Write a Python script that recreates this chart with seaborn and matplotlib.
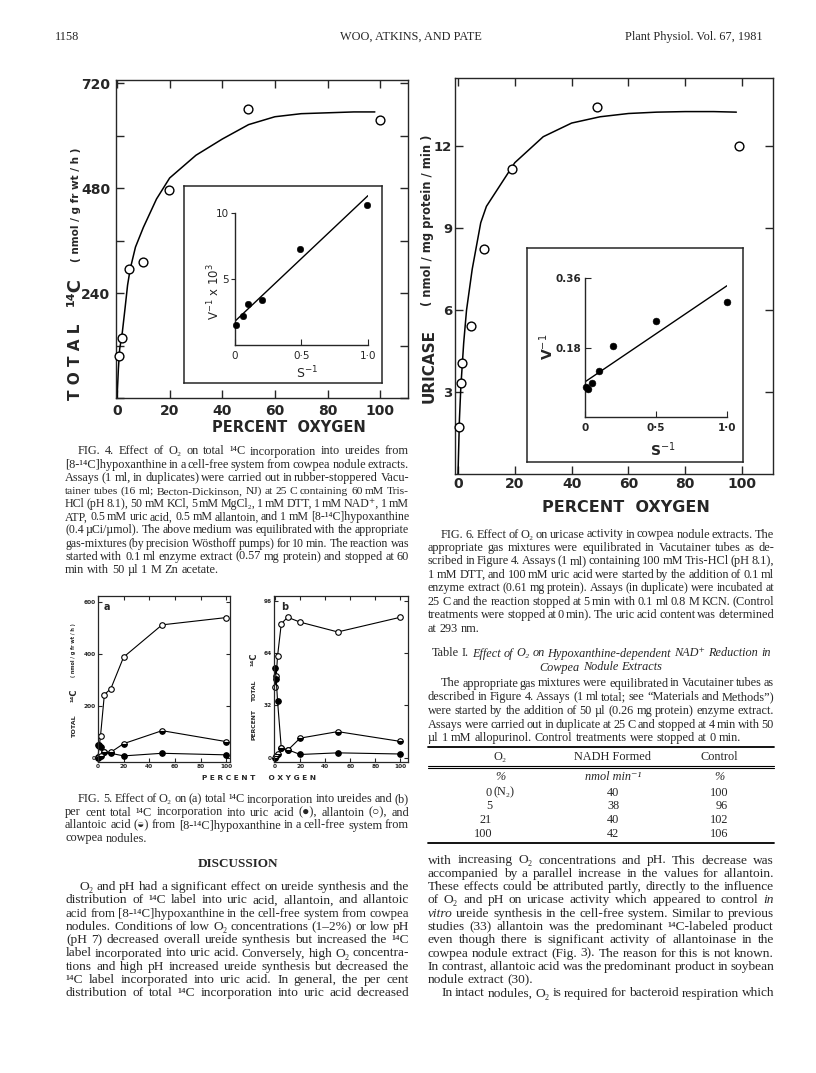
import matplotlib
matplotlib.use("Agg")
import matplotlib.pyplot as plt
import seaborn as sns
from matplotlib.lines import Line2D

# ---- data ----
# Fig. 4: total 14C incorporation vs percent oxygen (open circles + fitted curve)
f4_o2 = [0.8, 1.8, 4.6, 10, 19.6, 49.8, 100]
f4_total = [97, 138, 294, 310, 475, 661, 636]
f4_fit_o2 = [0, 0.5, 1, 2, 3, 4, 5, 7, 10, 15, 20, 30, 40, 50, 60, 70, 80, 90, 98]
f4_fit_total = [0, 66, 112, 150, 203, 258, 295, 345, 390, 455, 503, 555, 592, 625, 643, 650, 652, 654, 654]
# Fig. 4 inset: double reciprocal
f4_inv_s = [0.01, 0.06, 0.1, 0.2, 0.49, 0.99]
f4_inv_v = [1.5, 2.2, 3.1, 3.4, 7.3, 10.6]
f4_line_s = [0.0, 1.0]
f4_line_v = [1.8, 11.3]

# Fig. 6: uricase activity vs percent oxygen
f6_o2 = [0.3, 0.9, 1.4, 4.5, 9.3, 19, 49, 99]
f6_uricase = [1.73, 3.35, 4.05, 5.41, 8.25, 11.18, 13.44, 12.0]
f6_fit_o2 = [0, 0.5, 1, 2, 3, 5, 8, 10, 15, 20, 30, 40, 50, 60, 70, 80, 90, 98]
f6_fit_uricase = [0, 2.0, 3.2, 4.8, 6.0, 7.5, 9.2, 9.8, 10.6, 11.4, 12.35, 12.85, 13.08, 13.2, 13.25, 13.27, 13.27, 13.25]
# Fig. 6 inset
f6_inv_s = [0.01, 0.02, 0.05, 0.1, 0.2, 0.5, 1.0]
f6_inv_v = [0.078, 0.072, 0.087, 0.118, 0.183, 0.248, 0.298]
f6_line_s = [0.0, 1.0]
f6_line_v = [0.091, 0.340]

# Fig. 5: a = total 14C (nmol/g fr wt/h), b = percent of total 14C
f5_o2 = [0, 1, 2, 5, 10, 20, 50, 100]
f5a_allantoin = [5, 45, 85, 244, 266, 388, 512, 540]
f5a_uric = [50, 48, 42, 22, 18, 8, 18, 12]
f5a_allantoic = [0, 3, 8, 22, 22, 55, 105, 63]
f5b_allantoin = [43, 50, 62, 82, 86, 83, 77, 86]
f5b_uric = [55, 48, 35, 6, 5, 2, 3, 2.3]
f5b_allantoic = [0, 1, 2, 6, 4.5, 12, 16, 10]

# Table I
t_o2 = ["0", "5", "21", "100"]
t_nadh = ["40", "38", "40", "42"]
t_control = ["100", "96", "102", "106"]

W, H = 816, 1073
sns.set_style("ticks")
plt.rcParams["font.family"] = ["DejaVu Sans"]
plt.rcParams["axes.linewidth"] = 1.0
SERIF = ["Liberation Serif", "DejaVu Serif", "DejaVu Sans"]
CAP = 8.8   # caption / table text size
BODY = 9.6  # running text size

fig = plt.figure(figsize=(W / 100, H / 100), dpi=100)
renderer = fig.canvas.get_renderer()


def fx(x):
    return x / W


def fy(y):
    return 1 - y / H


def add_ax(l, t, r, b, **kw):
    return fig.add_axes([l / W, 1 - b / H, (r - l) / W, (b - t) / H], **kw)


def ftext(x, y, s, **kw):
    return fig.text(fx(x), fy(y), s, **kw)


def line_of_words(x0, x1, y, line, size=CAP, align="justify", bold=False):
    # place word by word so the column can be justified like the print
    arts = []
    for w in line.split(" "):
        ital = len(w) > 1 and w.startswith("*") and w.endswith("*")
        s = w.strip("*") if ital else w
        arts.append(fig.text(0, fy(y + 3.5), s, fontsize=size, family=SERIF,
                             style="italic" if ital else "normal",
                             weight="bold" if bold else "normal",
                             va="baseline", ha="left"))
    sp = size * 100 / 72 * 0.25
    for _ in range(8):
        widths = [a.get_window_extent(renderer).width for a in arts]
        total = sum(widths)
        n = len(arts) - 1
        if align == "justify" and n > 0 and (x1 - x0 - total) / n < sp * 0.55:
            size *= 0.97
            for a in arts:
                a.set_fontsize(size)
            continue
        break
    gap = (x1 - x0 - total) / n if (align == "justify" and n > 0) else sp
    if align == "center":
        x = (x0 + x1) / 2 - (total + gap * n) / 2
    elif align == "right":
        x = x1 - (total + gap * n)
    else:
        x = x0
    for a, wd in zip(arts, widths):
        a.set_x(fx(x))
        x += wd + gap


def paragraph(x0, x1, ys, lines, size=CAP, indent=(0,), last_free=True):
    for i, (y, ln) in enumerate(zip(ys, lines)):
        left = x0 + (13 if i in indent else 0)
        last = last_free and i == len(lines) - 1
        line_of_words(left, x1, y, ln, size=size, align="left" if last else "justify")


def style_main(ax, fs, pad=4):
    ax.tick_params(direction="in", length=6, width=1, top=True, right=True,
                   labelsize=fs, pad=pad)
    for lab in ax.get_xticklabels() + ax.get_yticklabels():
        lab.set_fontweight("bold")
    ax.set_xlabel("")
    ax.set_ylabel("")


# ---------------- header ----------------
ftext(55, 40, "1158", fontsize=8.8, family=SERIF, va="baseline")
ftext(411, 40, "WOO, ATKINS, AND PATE", fontsize=8.8, family=SERIF, va="baseline", ha="center")
ftext(763, 40, "Plant Physiol. Vol. 67, 1981", fontsize=8.8, family=SERIF, va="baseline", ha="right")

# ---------------- Fig. 4 ----------------
ax4 = add_ax(116, 80, 408, 398)
sns.lineplot(x=f4_fit_o2, y=f4_fit_total, ax=ax4, color="black", lw=1.1,
             estimator=None, sort=False)
sns.scatterplot(x=f4_o2, y=f4_total, ax=ax4, color="white", edgecolor="black",
                linewidth=1.0, s=40, zorder=3, clip_on=False)
ax4.set_xlim(-0.4, 110.6)
ax4.set_ylim(0, 727)
ax4.set_xticks([0, 20, 40, 60, 80, 100])
ax4.set_yticks([0, 120, 240, 360, 480, 600, 720])
ax4.set_yticklabels(["", "", "240", "", "480", "", "720"])
style_main(ax4, 10)

box4 = add_ax(184, 186, 382, 383)
box4.set_xticks([])
box4.set_yticks([])
for sp_ in box4.spines.values():
    sp_.set_linewidth(1.1)

in4 = add_ax(235, 193, 368, 345)
in4.patch.set_alpha(0)
sns.lineplot(x=f4_line_s, y=f4_line_v, ax=in4, color="black", lw=1.0, estimator=None)
sns.scatterplot(x=f4_inv_s, y=f4_inv_v, ax=in4, color="black", edgecolor="black",
                s=22, zorder=3, clip_on=False)
in4.set_xlim(0, 1.0)
in4.set_ylim(0, 11.5)
in4.spines["top"].set_visible(False)
in4.spines["right"].set_visible(False)
in4.spines["left"].set_bounds(0, 10)
in4.set_xticks([0, 0.5, 1.0])
in4.set_xticklabels(["0", "0·5", "1·0"])
in4.set_yticks([5, 10])
in4.tick_params(axis="y", direction="out", length=3, labelsize=7.5, pad=1.5)
in4.tick_params(axis="x", direction="in", length=4, labelsize=7.5, pad=4)
in4.set_xlabel("")
in4.set_ylabel("")
ftext(214, 292, "V$^{-1}$ x 10$^{3}$", fontsize=8.5, rotation=90, ha="center", va="center")
ftext(307, 373, "S$^{-1}$", fontsize=9, ha="center", va="center")

ftext(75, 362, "T O T A L", fontsize=11, weight="bold", rotation=90, ha="center", va="center")
ftext(75, 292, "¹⁴C", fontsize=13, weight="bold", rotation=90, ha="center", va="center")
ftext(76, 205, "( nmol / g fr wt / h )", fontsize=7.5, weight="bold", rotation=90, ha="center", va="center")
ftext(289, 428, "PERCENT  OXYGEN", fontsize=10.5, weight="bold", ha="center", va="center")

cap4 = [
    "FIG. 4. Effect of O₂ on total ¹⁴C incorporation into ureides from",
    "[8-¹⁴C]hypoxanthine in a cell-free system from cowpea nodule extracts.",
    "Assays (1 ml, in duplicates) were carried out in rubber-stoppered Vacu-",
    "tainer tubes (16 ml; Becton-Dickinson, NJ) at 25 C containing 60 mM Tris-",
    "HCl (pH 8.1), 50 mM KCl, 5 mM MgCl₂, 1 mM DTT, 1 mM NAD⁺, 1 mM",
    "ATP, 0.5 mM uric acid, 0.5 mM allantoin, and 1 mM [8-¹⁴C]hypoxanthine",
    "(0.4 µCi/µmol). The above medium was equilibrated with the appropriate",
    "gas-mixtures (by precision Wösthoff pumps) for 10 min. The reaction was",
    "started with 0.1 ml enzyme extract (0.57 mg protein) and stopped at 60",
    "min with 50 µl 1 M Zn acetate.",
]
paragraph(65, 409, [451 + 13.15 * i for i in range(len(cap4))], cap4)

# ---------------- Fig. 6 ----------------
ax6 = add_ax(455, 78, 773, 474)
sns.lineplot(x=f6_fit_o2, y=f6_fit_uricase, ax=ax6, color="black", lw=1.1,
             estimator=None, sort=False)
sns.scatterplot(x=f6_o2, y=f6_uricase, ax=ax6, color="white", edgecolor="black",
                linewidth=1.0, s=40, zorder=3, clip_on=False)
ax6.set_xlim(-1.06, 110.9)
ax6.set_ylim(0, 14.5)
ax6.set_xticks([0, 20, 40, 60, 80, 100])
ax6.set_yticks([3, 6, 9, 12])
style_main(ax6, 10, pad=2)
ax6.tick_params(axis="y", labelsize=9.5)

box6 = add_ax(527, 248, 743, 462)
box6.set_xticks([])
box6.set_yticks([])
for sp_ in box6.spines.values():
    sp_.set_linewidth(1.1)

in6 = add_ax(585, 278, 727, 417)
in6.patch.set_alpha(0)
sns.lineplot(x=f6_line_s, y=f6_line_v, ax=in6, color="black", lw=1.0, estimator=None)
sns.scatterplot(x=f6_inv_s, y=f6_inv_v, ax=in6, color="black", edgecolor="black",
                s=24, zorder=3, clip_on=False)
in6.set_xlim(0, 1.0)
in6.set_ylim(0, 0.36)
in6.spines["top"].set_visible(False)
in6.spines["right"].set_visible(False)
in6.set_xticks([0, 0.5, 1.0])
in6.set_xticklabels(["0", "0·5", "1·0"])
in6.set_yticks([0.18, 0.36])
in6.set_yticklabels(["0.18", "0.36"])
in6.tick_params(axis="y", direction="in", length=4, labelsize=7.5, pad=3)
in6.tick_params(axis="x", direction="in", length=4, labelsize=7.5, pad=4)
for lab in in6.get_xticklabels() + in6.get_yticklabels():
    lab.set_fontweight("bold")
in6.set_xlabel("")
in6.set_ylabel("")
ftext(547, 347, "V$^{-1}$", fontsize=10, weight="bold", rotation=90, ha="center", va="center")
ftext(663, 450, "S$^{-1}$", fontsize=10, weight="bold", ha="center", va="center")

ftext(429, 366, "URICASE", fontsize=11, weight="bold", rotation=90, ha="center", va="center")
ftext(428, 220, "( nmol / mg protein / min )", fontsize=8.3, weight="bold", rotation=90, ha="center", va="center")
ftext(626, 508, "PERCENT  OXYGEN", fontsize=11.5, weight="bold", ha="center", va="center")

cap6 = [
    "FIG. 6. Effect of O₂ on uricase activity in cowpea nodule extracts. The",
    "appropriate gas mixtures were equilibrated in Vacutainer tubes as de-",
    "scribed in Figure 4. Assays (1 ml) containing 100 mM Tris-HCl (pH 8.1),",
    "1 mM DTT, and 100 mM uric acid were started by the addition of 0.1 ml",
    "enzyme extract (0.61 mg protein). Assays (in duplicate) were incubated at",
    "25 C and the reaction stopped at 5 min with 0.1 ml 0.8 M KCN. (Control",
    "treatments were stopped at 0 min). The uric acid content was determined",
    "at 293 nm.",
]
paragraph(428, 774, [534 + 13.45 * i for i in range(len(cap6))], cap6)

# ---------------- Table I ----------------
line_of_words(428, 774, 653, "Table I. *Effect* *of* *O₂* *on* *Hypoxanthine-dependent* *NAD⁺* *Reduction* *in*",
              align="center")
line_of_words(428, 774, 667, "*Cowpea* *Nodule* *Extracts*", align="center")
note = [
    "The appropriate gas mixtures were equilibrated in Vacutainer tubes as",
    "described in Figure 4. Assays (1 ml total; see “Materials and Methods”)",
    "were started by the addition of 50 µl (0.26 mg protein) enzyme extract.",
    "Assays were carried out in duplicate at 25 C and stopped at 4 min with 50",
    "µl 1 mM allopurinol. Control treatments were stopped at 0 min.",
]
paragraph(428, 774, [683 + 13.7 * i for i in range(len(note))], note)

for yy, lw in [(747, 1.3), (766, 0.8), (768, 0.8), (843, 1.3)]:
    fig.add_artist(Line2D([fx(428), fx(774)], [fy(yy), fy(yy)], color="black", lw=lw))
ftext(500, 760, "O₂", fontsize=CAP, family=SERIF, ha="center", va="baseline")
ftext(613, 760, "NADH Formed", fontsize=CAP, family=SERIF, ha="center", va="baseline")
ftext(719, 760, "Control", fontsize=CAP, family=SERIF, ha="center", va="baseline")
ftext(500, 780, "%", fontsize=CAP, family=SERIF, ha="center", va="baseline", style="italic")
ftext(613, 780, "nmol min⁻¹", fontsize=CAP, family=SERIF, ha="center", va="baseline", style="italic")
ftext(719, 780, "%", fontsize=CAP, family=SERIF, ha="center", va="baseline", style="italic")
for i in range(len(t_o2)):
    yy = 795.5 + 13.7 * i
    ftext(492, yy, t_o2[i], fontsize=CAP, family=SERIF, ha="right", va="baseline")
    ftext(613, yy, t_nadh[i], fontsize=CAP, family=SERIF, ha="center", va="baseline")
    ftext(728, yy, t_control[i], fontsize=CAP, family=SERIF, ha="right", va="baseline")
ftext(494, 795.5, "(N₂)", fontsize=CAP, family=SERIF, ha="left", va="baseline")

# ---------------- Fig. 5 ----------------
ax5a = add_ax(97.7, 596, 230, 762)
ax5b = add_ax(274, 596, 408, 762)
series = [
    (f5a_allantoin, f5b_allantoin, dict(mfc="white", fillstyle="full")),
    (f5a_uric, f5b_uric, dict(mfc="black", fillstyle="full")),
    (f5a_allantoic, f5b_allantoic, dict(mfc="black", mfcalt="white", fillstyle="bottom")),
]
for ya, yb, mk in series:
    for ax, yv in [(ax5a, ya), (ax5b, yb)]:
        sns.lineplot(x=f5_o2, y=yv, ax=ax, color="black", lw=0.8, marker="o",
                     ms=4, mec="black", mew=0.8, estimator=None, sort=False,
                     clip_on=False, **mk)
ax5a.set_xlim(-0.2, 103)
ax5a.set_ylim(-15.5, 623)
ax5a.set_yticks([0, 200, 400, 600])
ax5b.set_xlim(-0.8, 106)
ax5b.set_ylim(-2.6, 99)
ax5b.set_yticks([0, 32, 64, 96])
for ax in (ax5a, ax5b):
    ax.set_xticks([0, 20, 40, 60, 80, 100])
    ax.tick_params(direction="in", length=3, width=0.8, top=True, right=True,
                   labelsize=4.2, pad=1.5)
    for lab in ax.get_xticklabels() + ax.get_yticklabels():
        lab.set_fontweight("bold")
    for sp_ in ax.spines.values():
        sp_.set_linewidth(0.9)
    ax.set_xlabel("")
    ax.set_ylabel("")
ftext(107, 607, "a", fontsize=7, weight="bold", ha="center", va="center")
ftext(285, 607, "b", fontsize=7, weight="bold", ha="center", va="center")
ftext(74, 726, "TOTAL", fontsize=4.6, weight="bold", rotation=90, ha="center", va="center")
ftext(74, 695, "¹⁴C", fontsize=6, weight="bold", rotation=90, ha="center", va="center")
ftext(74, 650, "( nmol / g fr wt / h )", fontsize=3.5, weight="bold", rotation=90, ha="center", va="center")
ftext(254, 725, "PERCENT", fontsize=4.4, weight="bold", rotation=90, ha="center", va="center")
ftext(254, 690, "TOTAL", fontsize=4.4, weight="bold", rotation=90, ha="center", va="center")
ftext(254, 659, "¹⁴C", fontsize=6, weight="bold", rotation=90, ha="center", va="center")
ftext(259, 778, "P E R C E N T     O X Y G E N", fontsize=5.3, weight="bold", ha="center", va="center")

cap5 = [
    "FIG. 5. Effect of O₂ on (a) total ¹⁴C incorporation into ureides and (b)",
    "per cent total ¹⁴C incorporation into uric acid (●), allantoin (○), and",
    "allantoic acid (◒) from [8-¹⁴C]hypoxanthine in a cell-free system from",
    "cowpea nodules.",
]
paragraph(65, 409, [799 + 13 * i for i in range(len(cap5))], cap5)

# ---------------- Discussion ----------------
ftext(238, 867, "DISCUSSION", fontsize=9.5, weight="bold", family=SERIF, ha="center", va="baseline")
disc1 = [
    "O₂ and pH had a significant effect on ureide synthesis and the",
    "distribution of ¹⁴C label into uric acid, allantoin, and allantoic",
    "acid from [8-¹⁴C]hypoxanthine in the cell-free system from cowpea",
    "nodules. Conditions of low O₂ concentrations (1–2%) or low pH",
    "(pH 7) decreased overall ureide synthesis but increased the ¹⁴C",
    "label incorporated into uric acid. Conversely, high O₂ concentra-",
    "tions and high pH increased ureide synthesis but decreased the",
    "¹⁴C label incorporated into uric acid. In general, the per cent",
    "distribution of total ¹⁴C incorporation into uric acid decreased",
]
paragraph(66, 409, [886.5 + 13.3 * i for i in range(len(disc1))], disc1, size=BODY, last_free=False)
disc2 = [
    "with increasing O₂ concentrations and pH. This decrease was",
    "accompanied by a parallel increase in the values for allantoin.",
    "These effects could be attributed partly, directly to the influence",
    "of O₂ and pH on uricase activity which appeared to control *in*",
    "*vitro* ureide synthesis in the cell-free system. Similar to previous",
    "studies (33) allantoin was the predominant ¹⁴C-labeled product",
    "even though there is significant activity of allantoinase in the",
    "cowpea nodule extract (Fig. 3). The reason for this is not known.",
    "In contrast, allantoic acid was the predominant product in soybean",
]
paragraph(428, 774, [860 + 13.3 * i for i in range(len(disc2))], disc2, size=BODY,
          indent=(), last_free=False)
line_of_words(428, 774, 860 + 13.3 * 9, "nodule extract (30).", size=BODY, align="left")
line_of_words(441, 774, 860 + 13.3 * 10,
              "In intact nodules, O₂ is required for bacteroid respiration which", size=BODY)

fig.savefig("out.png", dpi=100)
